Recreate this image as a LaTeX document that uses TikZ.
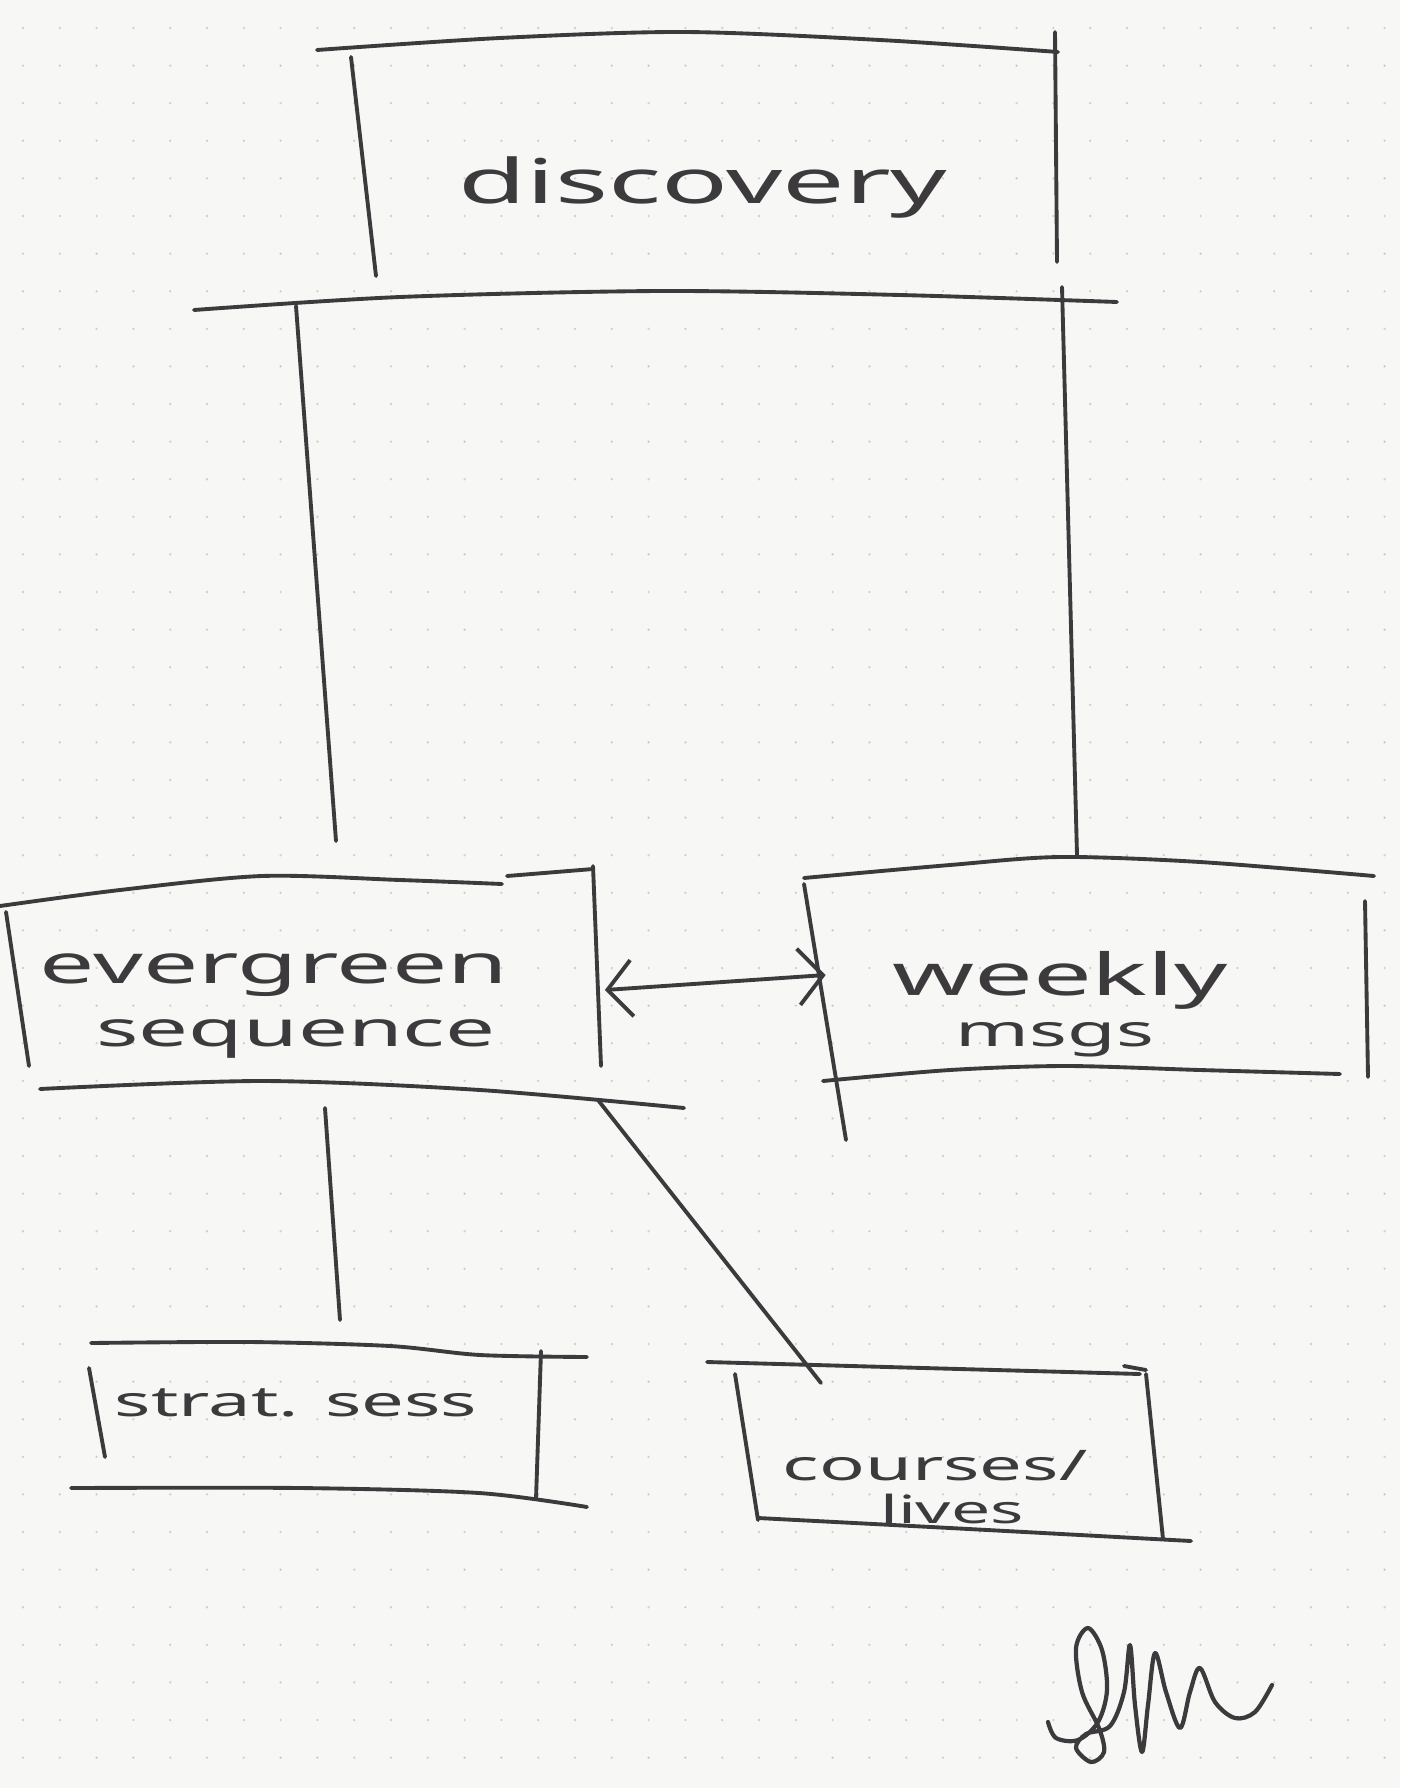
\documentclass[tikz,border=0pt]{standalone}
\usepackage{fontspec}
\newfontfamily\hand{Noto Sans}[FakeStretch=1.8]
\usetikzlibrary{arrows.meta}
\definecolor{ink}{HTML}{3C3A3C}
\definecolor{paper}{HTML}{F7F7F5}
\definecolor{dotc}{HTML}{CFCFCC}
\tikzset{barb/.tip={Straight Barb[length=7pt,width=16pt,line width=1.1pt]}}
\begin{document}
\begin{tikzpicture}[x=0.01cm,y=-0.01cm,
  pen/.style={line width=1.1pt, draw=ink, line cap=round, line join=round},
  lbl/.style={text=ink, inner sep=0pt, align=center},
  boxn/.style={draw=none, inner sep=0pt, rectangle}]
% paper
\fill[paper] (0,0) rectangle (1400,1788);
\useasboundingbox (0,0) rectangle (1400,1788);
\foreach \i in {0,...,37} {
  \foreach \j in {0,...,47} {
    \fill[dotc] ({23+36.8*\i},{28+37.6*\j}) circle (1.3);
  }
}
% invisible box nodes
\node[boxn, minimum width=7.05cm, minimum height=2.3cm] (discbox) at (704,155) {};
\node[boxn, minimum width=5.98cm, minimum height=2.1cm] (everbox) at (305,985) {};
\node[boxn, minimum width=5.41cm, minimum height=2.1cm] (weekbox) at (1097,975) {};
\node[boxn, minimum width=4.5cm, minimum height=1.4cm] (stratbox) at (314,1425) {};
\node[boxn, minimum width=4.2cm, minimum height=1.55cm] (coursebox) at (948,1450) {};
% labels
\node[lbl, font=\hand\fontsize{17.5}{20}\selectfont] (disc) at (703,187) {discovery};
\node[lbl, font=\hand\fontsize{15.5}{18}\selectfont] (ever1) at (274,975) {evergreen};
\node[lbl, font=\hand\fontsize{14}{16}\selectfont] (ever2) at (296,1039) {sequence};
\node[lbl, font=\hand\fontsize{16.5}{20}\selectfont] (weekly) at (1060,980) {weekly};
\node[lbl, font=\hand\fontsize{12.5}{15}\selectfont] (msgs) at (1055,1040) {msgs};
\node[lbl, font=\hand\fontsize{12}{14}\selectfont] (strat) at (296,1403) {strat. sess};
\node[lbl, font=\hand\fontsize{12}{14}\selectfont] (courses) at (935,1466) {courses/};
\node[lbl, font=\hand\fontsize{11}{13}\selectfont] (lives) at (952,1509) {lives};
% discovery box
\draw[pen] plot[smooth] coordinates {(317,50) (500,38) (684,32) (880,40) (1058,52)};
\draw[pen] (351,57) -- (376,276);
\draw[pen] (1055,32) -- (1057,262);
% large frame from discovery to the two boxes
\draw[pen] plot[smooth] coordinates {(194,310) (400,297) (661,291) (900,295) (1117,302)};
\coordinate (fl1) at (296,306); \coordinate (fl2) at (336,841);
\coordinate (fr1) at (1062,287); \coordinate (fr2) at (1077,855);
\draw[pen] (fl1) -- (fl2);
\draw[pen] (fr1) -- (fr2);
% evergreen box
\draw[pen] plot[smooth] coordinates {(0,906) (120,890) (262,876) (400,880) (502,884)};
\draw[pen] (507,876) -- (593,869);
\draw[pen] (6,912) -- (29,1066);
\draw[pen] (593,866) -- (601,1066);
\draw[pen] plot[smooth] coordinates {(40,1089) (262,1081) (480,1090) (684,1108)};
% weekly box
\draw[pen] plot[smooth] coordinates {(804,878) (950,865) (1060,857) (1200,862) (1374,876)};
\draw[pen] (804,884) -- (846,1140);
\draw[pen] (1365,901) -- (1368,1077);
\draw[pen] plot[smooth] coordinates {(823,1081) (950,1070) (1066,1066) (1200,1070) (1340,1074)};
% strat box
\draw[pen] plot[smooth] coordinates {(91,1343) (250,1342) (390,1346) (480,1355) (587,1357)};
\draw[pen] (89,1368) -- (105,1457);
\draw[pen] (541,1351) -- (536,1499);
\draw[pen] plot[smooth] coordinates {(71,1488) (300,1488) (479,1493) (587,1507)};
% courses box
\draw[pen] (707,1362) -- (1140,1374);
\draw[pen] (1124,1366) -- (1146,1370);
\draw[pen] (735,1374) -- (758,1520);
\draw[pen] (1146,1374) -- (1163,1539);
\draw[pen] plot[smooth] coordinates {(758,1518) (950,1528) (1191,1541)};
% connectors
\draw[pen, barb-barb] ([yshift=-0.05cm]everbox.east) -- (weekbox.west);
\coordinate (s1) at (325,1108); \coordinate (s2) at (340,1320);
\draw[pen] (s1) -- (s2);
\coordinate (d1) at (598,1100); \coordinate (d2) at (821,1383);
\draw[pen] (d1) -- (d2);
% signature
\draw[pen, line width=1.2pt] plot[smooth, tension=0.55] coordinates {
 (1048,1722) (1056,1738) (1078,1740) (1098,1722) (1107,1690) (1102,1650) (1088,1628)
 (1076,1648) (1082,1692) (1099,1728) (1104,1752) (1091,1762) (1076,1748) (1086,1734)
 (1110,1726) (1124,1692) (1130,1645) (1135,1705) (1142,1752) (1148,1705) (1155,1653)
 (1166,1692) (1180,1728) (1190,1692) (1200,1668) (1215,1702) (1235,1718) (1255,1712) (1272,1685)};
\end{tikzpicture}
\end{document}
